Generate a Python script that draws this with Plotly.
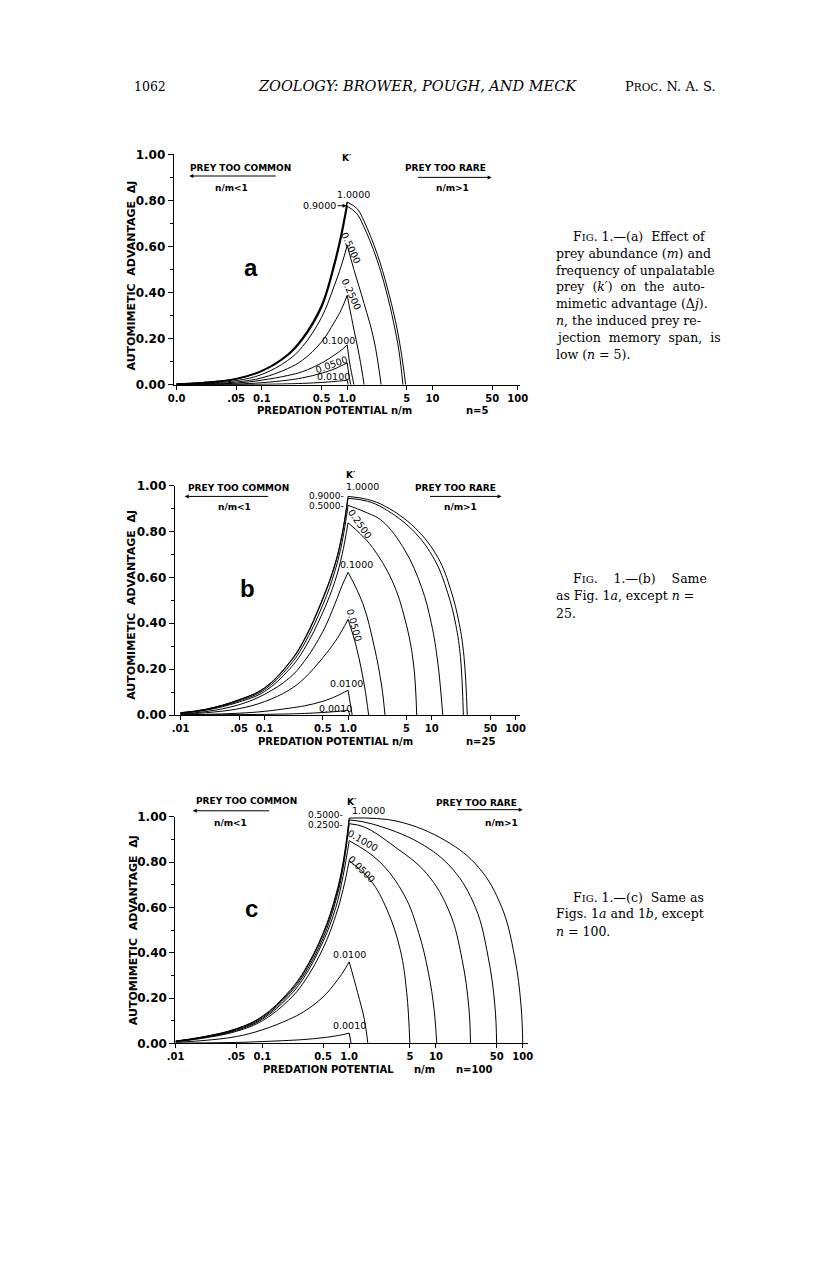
import math
import plotly.graph_objects as go

# ---------------- data ----------------
RISE_X = [0.01, 0.02, 0.05, 0.1, 0.2, 0.3, 0.5, 0.7, 0.85, 1.0]
X_TICKS = [0.01, 0.05, 0.1, 0.5, 1, 5, 10, 50, 100]
A_XTICKTEXT = ["0.0", ".05", "0.1", "0.5", "1.0", "5", "10", "50", "100"]
BC_XTICKTEXT = [".01", ".05", "0.1", "0.5", "1.0", "5", "10", "50", "100"]
Y_TICKS = [0, 0.2, 0.4, 0.6, 0.8, 1.0]
Y_TICKTEXT = ["0.00", "0.20", "0.40", "0.60", "0.80", "1.00"]
Y_MINOR = [0.1, 0.3, 0.5, 0.7, 0.9]

# Panel a (n = 5)
A_K = ["1.0000", "0.9000", "0.5000", "0.2500", "0.1000", "0.0500", "0.0100"]
A_RISE_Y = [
    [.004, .009, .026, .061, .131, .203, .345, .523, .655, .793],
    [.004, .009, .025, .059, .127, .197, .336, .510, .640, .775],
    [.002, .006, .018, .045, .105, .166, .292, .426, .515, .605],
    [.001, .004, .012, .030, .070, .107, .186, .269, .325, .388],
    [.0005, .002, .007, .020, .040, .057, .094, .128, .150, .173],
    [.0003, .001, .003, .009, .020, .030, .050, .068, .082, .095],
    [0, 0, .001, .002, .004, .006, .010, .014, .017, .020],
]
A_FALL_X = [
    [1, 1.3, 1.58, 2.25, 2.94, 3.66, 4.25, 4.85],
    [1, 1.28, 1.55, 2.2, 2.85, 3.5, 4.05, 4.5],
    [1, 1.21, 1.58, 2.06, 2.5],
    [1, 1.16, 1.39, 1.58],
    [1, 1.07, 1.2],
    [1, 1.04, 1.1],
    [1, 1.03],
]
A_FALL_Y = [
    [.793, .765, .709, .567, .424, .28, .152, 0],
    [.775, .745, .69, .55, .41, .27, .145, 0],
    [.605, .495, .352, .194, 0],
    [.388, .266, .123, 0],
    [.173, .094, 0],
    [.095, .05, 0],
    [.02, 0],
]

# Panel b (n = 25)
B_K = ["1.0000", "0.9000", "0.5000", "0.2500", "0.1000", "0.0500", "0.0100", "0.0010"]
B_RISE_Y = [
    [.010, .025, .067, .118, .230, .330, .510, .660, .790, .953],
    [.010, .025, .066, .116, .227, .326, .505, .655, .785, .945],
    [.009, .023, .062, .110, .215, .310, .480, .630, .755, .914],
    [.008, .021, .057, .102, .200, .288, .448, .585, .700, .838],
    [.006, .015, .045, .090, .162, .234, .364, .486, .565, .622],
    [.004, .010, .028, .058, .110, .160, .250, .320, .370, .417],
    [.001, .003, .008, .016, .030, .040, .060, .080, .095, .108],
    [0, .001, .002, .003, .005, .007, .011, .015, .018, .022],
]
B_FALL_X = [
    [1, 1.7, 2.81, 6.3, 11.8, 16.9, 21.2, 24.2, 26.5],
    [1, 1.7, 2.7, 5.9, 10.8, 15.4, 19.3, 22.0, 23.8],
    [1, 1.6, 2.57, 4.81, 7.54, 9.87, 11.8, 13.5],
    [1, 1.4, 1.96, 3.36, 4.81, 6.03, 6.6],
    [1, 1.5, 2.05, 2.52, 2.76],
    [1, 1.25, 1.57, 1.76],
    [1, 1.12],
    [1, 1.05],
]
B_FALL_Y = [
    [.953, .94, .909, .816, .687, .543, .40, .256, 0],
    [.945, .932, .90, .806, .677, .535, .395, .25, 0],
    [.914, .885, .845, .716, .557, .40, .227, 0],
    [.838, .79, .73, .586, .414, .227, 0],
    [.622, .486, .30, .126, 0],
    [.417, .30, .126, 0],
    [.108, 0],
    [.022, 0],
]

# Panel c (n = 100)
C_K = ["1.0000", "0.5000", "0.2500", "0.1000", "0.0500", "0.0100", "0.0010"]
C_RISE_Y = [
    [.010, .028, .065, .120, .227, .318, .487, .655, .800, .995],
    [.010, .027, .063, .117, .222, .312, .480, .645, .790, .987],
    [.009, .026, .060, .112, .215, .302, .465, .630, .775, .970],
    [.008, .024, .057, .107, .205, .290, .450, .600, .740, .895],
    [.007, .022, .053, .100, .190, .270, .420, .565, .680, .806],
    [.005, .012, .030, .060, .105, .140, .205, .270, .315, .360],
    [.001, .002, .004, .008, .013, .017, .025, .033, .039, .045],
]
C_FALL_X = [
    [1, 3.55, 13, 31, 57, 80.5, 95.6, 100],
    [1, 1.8, 6.5, 15.5, 28.5, 40, 47.8, 50],
    [1, 1.5, 3.3, 7.8, 14.3, 20, 23.9, 25],
    [1, 2.2, 4.3, 6.3, 8.2, 9.5, 10.2],
    [1, 1.77, 2.74, 3.87, 4.6, 5.0],
    [1, 1.25, 1.49, 1.64],
    [1, 1.05],
]
C_FALL_Y = [
    [.995, .981, .894, .777, .603, .384, .166, 0],
    [.987, .97, .885, .77, .6, .38, .165, 0],
    [.97, .955, .87, .75, .58, .37, .16, 0],
    [.895, .805, .655, .49, .31, .15, 0],
    [.806, .719, .588, .414, .224, 0],
    [.36, .224, .108, 0],
    [.045, 0],
]

# ---------------- layout helpers ----------------
W, H = 816, 1261


def px(p):
    return p / W


def py(q):
    return 1 - q / H


SANS = "DejaVu Sans"
SERIF = "DejaVu Serif"
fig = go.Figure()


def add_curves(idx, ks, rise, fx, fy):
    xa = "x" if idx == 1 else f"x{idx}"
    ya = "y" if idx == 1 else f"y{idx}"
    for i, k in enumerate(ks):
        w_rise = 1.5 if (idx == 1 and i < 2) else 1.0
        base = dict(mode="lines", xaxis=xa, yaxis=ya, showlegend=False,
                    hoverinfo="skip", name=k)
        fig.add_trace(go.Scatter(x=RISE_X, y=rise[i], **base,
                                 line=dict(color="black", width=w_rise,
                                           shape="spline", smoothing=1.1)))
        fig.add_trace(go.Scatter(x=fx[i], y=fy[i], **base,
                                 line=dict(color="black", width=1.0,
                                           shape="spline", smoothing=1.1)))


add_curves(1, A_K, A_RISE_Y, A_FALL_X, A_FALL_Y)
add_curves(2, B_K, B_RISE_Y, B_FALL_X, B_FALL_Y)
add_curves(3, C_K, C_RISE_Y, C_FALL_X, C_FALL_Y)


def xaxis(dom, rng, ticktext):
    return dict(type="log", range=rng, domain=dom, showline=True, linecolor="black",
                linewidth=1, ticks="outside", ticklen=4, tickcolor="black",
                tickvals=X_TICKS, ticktext=ticktext, showgrid=False, zeroline=False,
                tickfont=dict(family=SANS, size=10, color="black", weight="bold"))


def yaxis(dom, anchor):
    return dict(range=[0, 1], domain=dom, anchor=anchor, showline=True, linecolor="black",
                linewidth=1, ticks="outside", ticklen=5, tickcolor="black",
                tickvals=Y_TICKS, ticktext=Y_TICKTEXT, showgrid=False, zeroline=False,
                minor=dict(tickvals=Y_MINOR, ticks="outside", ticklen=3, tickcolor="black"),
                tickfont=dict(family=SANS, size=12, color="black", weight="bold"))


fig.update_layout(
    width=W, height=H, margin=dict(l=0, r=0, t=0, b=0),
    paper_bgcolor="white", plot_bgcolor="white",
    xaxis=dict(xaxis([px(169), px(522)], [-2.034, 2.023], A_XTICKTEXT), anchor="y"),
    yaxis=yaxis([py(382), py(149)], "x"),
    xaxis2=dict(xaxis([px(170), px(522)], [-2.07, 2.05], BC_XTICKTEXT), anchor="y2"),
    yaxis2=yaxis([py(716), py(484)], "x2"),
    xaxis3=dict(xaxis([px(170.6), px(530)], [-2.005, 2.056], BC_XTICKTEXT), anchor="y3"),
    yaxis3=yaxis([py(1048), py(819)], "x3"),
)

ann = []


def refs(idx):
    xa = "x" if idx == 1 else f"x{idx}"
    ya = "y" if idx == 1 else f"y{idx}"
    return xa, ya + " domain"


def dtext(idx, xv, yv, text, size=9.5, angle=0, bold=False, xanchor="center", fam=SANS):
    xa, ya = refs(idx)
    ann.append(dict(xref=xa, yref=ya, x=math.log10(xv), y=yv, text=text, showarrow=False,
                    textangle=angle, xanchor=xanchor, yanchor="middle",
                    font=dict(family=fam, size=size, color="black",
                              weight="bold" if bold else "normal")))


def darrow(idx, xv, yv, axpx, text="", xanchor="center", size=9.5):
    xa, ya = refs(idx)
    ann.append(dict(xref=xa, yref=ya, x=math.log10(xv), y=yv, ax=axpx, ay=0, text=text,
                    showarrow=True, arrowhead=2, arrowsize=0.8, arrowwidth=1,
                    arrowcolor="black", xanchor=xanchor,
                    font=dict(family=SANS, size=size, color="black")))


def ptext(xp, yp, text, size=12.5, fam=SERIF, xanchor="left", angle=0, bold=False):
    ann.append(dict(xref="paper", yref="paper", x=px(xp), y=py(yp), text=text,
                    showarrow=False, xanchor=xanchor, yanchor="middle", textangle=angle,
                    font=dict(family=fam, size=size, color="black",
                              weight="bold" if bold else "normal")))


# --- panel a labels
dtext(1, 1.0, 0.984, "K′", size=9, bold=True)
dtext(1, 1.175, 0.824, "1.0000")
darrow(1, 0.985, 0.777, -9, "0.9000", xanchor="right")
dtext(1, 1.11, 0.597, "0.5000", angle=65)
dtext(1, 1.11, 0.395, "0.2500", angle=65)
dtext(1, 0.789, 0.193, "0.1000")
dtext(1, 0.655, 0.087, "0.0500", angle=-20)
dtext(1, 0.686, 0.037, "0.0100")
dtext(1, 0.0753, 0.509, "a", size=24, bold=True, fam="Liberation Sans")
dtext(1, 0.0555, 0.939, "PREY TOO COMMON", size=9, bold=True)
darrow(1, 0.0141, 0.906, 88)
dtext(1, 0.0444, 0.853, "n/m&lt;1", size=9, bold=True)
dtext(1, 14.1, 0.939, "PREY TOO RARE", size=9, bold=True)
darrow(1, 49.3, 0.900, -75)
dtext(1, 17.1, 0.853, "n/m&gt;1", size=9, bold=True)

# --- panel b labels
dtext(2, 1.08, 1.047, "K′", size=9, bold=True)
dtext(2, 1.5, 0.996, "1.0000")
dtext(2, 0.948, 0.955, "0.9000-", xanchor="right", size=9)
dtext(2, 0.948, 0.912, "0.5000-", xanchor="right", size=9)
dtext(2, 1.37, 0.833, "0.2500", angle=55)
dtext(2, 1.27, 0.655, "0.1000")
dtext(2, 1.2, 0.392, "0.0500", angle=75)
dtext(2, 0.955, 0.137, "0.0100")
dtext(2, 0.70, 0.030, "0.0010")
dtext(2, 0.0624, 0.552, "b", size=24, bold=True, fam="Liberation Sans")
dtext(2, 0.0494, 0.991, "PREY TOO COMMON", size=9, bold=True)
darrow(2, 0.0112, 0.953, 85)
dtext(2, 0.0444, 0.905, "n/m&lt;1", size=9, bold=True)
dtext(2, 19.4, 0.988, "PREY TOO RARE", size=9, bold=True)
darrow(2, 68, 0.953, -73)
dtext(2, 22.1, 0.905, "n/m&gt;1", size=9, bold=True)

# --- panel c labels
dtext(3, 1.07, 1.068, "K′", size=9, bold=True)
dtext(3, 1.65, 1.027, "1.0000")
dtext(3, 0.9, 1.010, "0.5000-", xanchor="right", size=9)
dtext(3, 0.9, 0.964, "0.2500-", xanchor="right", size=9)
dtext(3, 1.43, 0.894, "0.1000", angle=30)
dtext(3, 1.37, 0.770, "0.0500", angle=45)
dtext(3, 1.0, 0.392, "0.0100")
dtext(3, 1.0, 0.079, "0.0010")
dtext(3, 0.0748, 0.595, "c", size=24, bold=True, fam="Liberation Sans")
dtext(3, 0.0656, 1.070, "PREY TOO COMMON", size=9, bold=True)
darrow(3, 0.0157, 1.027, 78)
dtext(3, 0.0433, 0.974, "n/m&lt;1", size=9, bold=True)
dtext(3, 29.6, 1.061, "PREY TOO RARE", size=9, bold=True)
darrow(3, 100, 1.032, -67)
dtext(3, 56.9, 0.974, "n/m&gt;1", size=9, bold=True)

# --- axis titles
YT = "AUTOMIMETIC  ADVANTAGE  ΔJ"
ptext(126, 272, YT, size=11, fam=SANS, xanchor="center", angle=-90, bold=True)
ptext(126, 605, YT, size=11, fam=SANS, xanchor="center", angle=-90, bold=True)
ptext(128, 933, YT, size=11, fam=SANS, xanchor="center", angle=-90, bold=True)
ptext(252, 408, "PREDATION POTENTIAL n/m", size=10, fam=SANS, bold=True)
ptext(478, 408, "n=5", size=10, fam=SANS, xanchor="center", bold=True)
ptext(253, 743, "PREDATION POTENTIAL n/m", size=10, fam=SANS, bold=True)
ptext(482, 743, "n=25", size=10, fam=SANS, xanchor="center", bold=True)
ptext(258, 1074, "PREDATION POTENTIAL", size=10, fam=SANS, bold=True)
ptext(425, 1074, "n/m", size=10, fam=SANS, xanchor="center", bold=True)
ptext(475, 1074, "n=100", size=10, fam=SANS, xanchor="center", bold=True)

# --- page header
ptext(126, 80, "1062", size=12.5)
ptext(418, 80, "<i>ZOOLOGY: BROWER, POUGH, AND MECK</i>", size=14.5, xanchor="center")
ptext(724, 80, "P<span style='font-size:10.5px'>ROC</span>. N. A. S.", size=13, xanchor="right")

SC = "<span style='font-size:10px'>IG</span>"
CAP_A = [
    (574, 232, f"F{SC}. 1.—(a)  Effect of"),
    (557, 249, "prey abundance (<i>m</i>) and"),
    (557, 266, "frequency of unpalatable"),
    (557, 283, "prey  (<i>k′</i>)  on  the  auto-"),
    (557, 300, "mimetic advantage (Δ<i>j</i>)."),
    (557, 317, "<i>n</i>, the induced prey re-"),
    (557, 334, "jection  memory  span,  is"),
    (557, 351, "low (<i>n</i> = 5)."),
]
CAP_B = [
    (574, 578, f"F{SC}.    1.—(b)    Same"),
    (557, 595, "as Fig. 1<i>a</i>, except <i>n</i> ="),
    (557, 613, "25."),
]
CAP_C = [
    (574, 900, f"F{SC}. 1.—(c)  Same as"),
    (557, 917, "Figs. 1<i>a</i> and 1<i>b</i>, except"),
    (557, 935, "<i>n</i> = 100."),
]
for xp, yp, t in CAP_A + CAP_B + CAP_C:
    ptext(xp, yp, t, size=12.5)

fig.update_layout(annotations=ann)
fig.write_html(
    "out.html",
    config={"displayModeBar": False},
    post_script="document.body.style.margin='0px';document.body.style.padding='0px';"
                "document.body.style.overflow='hidden';",
)
